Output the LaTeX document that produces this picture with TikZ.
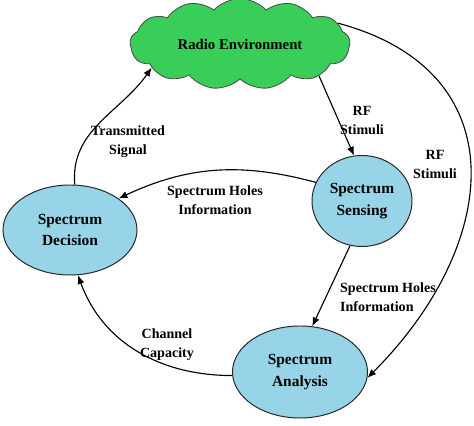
\documentclass[tikz,border=0pt]{standalone}
\usepackage{fontspec}
\setmainfont{Liberation Serif}
\usetikzlibrary{shapes.geometric,shapes.symbols,arrows.meta}
\definecolor{cloudgreen}{RGB}{56,206,88}
\definecolor{blockblue}{RGB}{152,212,232}
\tikzset{
  block/.style={ellipse,draw=black!85,fill=blockblue,line width=0.7pt,align=center,
    font=\bfseries\fontsize{11}{15.5}\selectfont,inner sep=0pt},
  lbl/.style={align=center,font=\bfseries\fontsize{10}{13.5}\selectfont,inner sep=1pt},
  flow/.style={-{Latex[length=2.2mm,width=1.8mm]},line width=0.8pt}
}
\begin{document}
\begin{tikzpicture}
  \useasboundingbox (0,0) rectangle (11.85,10.65);
  % Radio environment cloud
  \node[cloud,cloud puffs=13,cloud puff arc=95,aspect=2.6,draw=black!70,fill=cloudgreen,
    line width=0.6pt,minimum width=5.5cm,minimum height=2.1cm,
    font=\bfseries\fontsize{10.5}{13}\selectfont] (env) at (6.0,9.55) {Radio Environment};
  % Cognitive cycle blocks
  \node[block,minimum width=3.35cm,minimum height=2.25cm] (dec) at (1.75,4.9) {Spectrum\\Decision};
  \node[block,minimum width=2.5cm,minimum height=2.275cm] (sens) at (9.05,5.625) {Spectrum\\Sensing};
  \node[block,minimum width=3.375cm,minimum height=2.3cm] (ana) at (7.5,1.35) {Spectrum\\Analysis};
  % Connectors
  \draw[flow] (dec.84) to[out=95,in=235] (env.195);
  \draw[flow] (env.-22) -- (sens.100);
  \draw[flow] (env.12) to[out=-15,in=45,looseness=1.35] (ana.-5);
  \draw[flow] (sens.158) to[out=165,in=25] (dec.33);
  \draw[flow] (sens.-105) -- (ana.75);
  \draw[flow] (ana.183) to[out=180,in=-70] (dec.-80);
  % Labels
  \node[lbl] (l1) at (3.2,7.1) {Transmitted\\Signal};
  \node[lbl] (l2) at (9.05,7.65) {RF\\Stimuli};
  \node[lbl] (l3) at (10.875,6.55) {RF\\Stimuli};
  \node[lbl] (l4) at (5.375,5.65) {Spectrum Holes\\Information};
  \node[lbl,align=left] (l5) at (9.7,3.225) {Spectrum Holes\\Information};
  \node[lbl] (l6) at (4.175,2.025) {Channel\\Capacity};
\end{tikzpicture}
\end{document}
